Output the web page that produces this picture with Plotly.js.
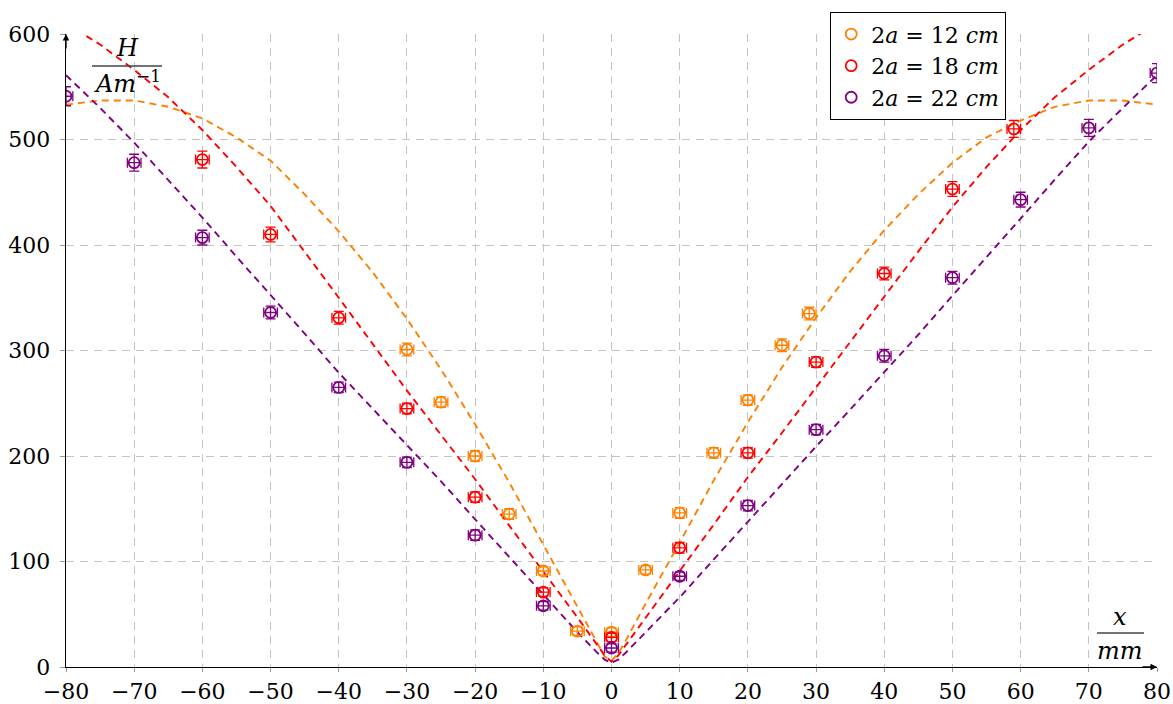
<!DOCTYPE html>
<html>
<head>
<meta charset="utf-8">
<script src="https://cdn.plot.ly/plotly-3.0.1.min.js"></script>
<style>html,body{margin:0;padding:0;background:#fff;}#chart{width:1173px;height:704px;}</style>
</head>
<body>
<div id="chart"></div>
<script>
// ---- data ----
const seriesNames = ["2<i>a</i> = 12 <i>cm</i>", "2<i>a</i> = 18 <i>cm</i>", "2<i>a</i> = 22 <i>cm</i>"];
const seriesColors = ["#ff8000", "#ff0000", "#800080"];

const x12 = [-30, -25, -20, -15, -10, -5, 0, 5, 10, 15, 20, 25, 29];
const h12 = [301, 251, 200, 145, 91, 34, 33, 92, 146, 203, 253, 305, 335];
const e12 = [6, 5, 5, 5, 4, 4, 4, 4, 5, 5, 5, 6, 6];

const x18 = [-60, -50, -40, -30, -20, -10, 0, 10, 20, 30, 40, 50, 59];
const h18 = [481, 410, 331, 245, 161, 71, 28, 113, 203, 289, 373, 453, 510];
const e18 = [8, 7, 6, 5, 5, 4, 4, 5, 5, 5, 6, 7, 8];

const x22 = [-80, -70, -60, -50, -40, -30, -20, -10, 0, 10, 20, 30, 40, 50, 60, 70, 80];
const h22 = [541, 478, 407, 336, 265, 194, 125, 58, 18, 86, 153, 225, 295, 369, 443, 511, 563];
const e22 = [9, 8, 7, 6, 5, 5, 5, 4, 4, 4, 5, 5, 6, 6, 7, 8, 9];
const exAll = 1;

// fit curves
const fitX = [-80,-75,-70,-65,-60,-55,-50,-45,-40,-35,-30,-25,-20,-15,-10,-5,-2,-1,0,1,2,5,10,15,20,25,30,35,40,45,50,55,60,65,70,75,80];
const fit12 = [533,537,537,531,520,502,480,448,413,374,330,282,230,175,116,57,21,10,6,13,24,60,118,177,232,284,331,375,414,448,478,502,518,531,537,537,533];
const fit18 = [610,590,566,540,509,474,437,394,350,306,262,220,178,134,91,47,20,11,5,11,20,47,91,135,180,222,265,308,352,394,436,474,509,540,566,590,610];
const fit22 = [561,530,497,462,426,389,353,316,279,245,211,176,140,104,68,33,13,7,4,7,13,33,66,102,138,174,209,244,279,315,352,388,425,462,498,530,561];

const xTicks = [-80,-70,-60,-50,-40,-30,-20,-10,0,10,20,30,40,50,60,70,80];
const yTicks = [0,100,200,300,400,500,600];

// ---- traces ----
const fits = [fit12, fit18, fit22];
const pts = [[x12, h12, e12], [x18, h18, e18], [x22, h22, e22]];
const traces = [];
fits.forEach((f, i) => {
  traces.push({
    x: fitX, y: f, mode: 'lines', type: 'scatter', showlegend: false, hoverinfo: 'skip',
    line: {color: seriesColors[i], width: 1.9, dash: '7px,5px'}
  });
});
pts.forEach((p, i) => {
  traces.push({
    x: p[0], y: p[1], mode: 'markers', type: 'scatter', name: seriesNames[i],
    marker: {symbol: 'circle-open', size: 11, color: seriesColors[i], line: {width: 1.8, color: seriesColors[i]}},
    error_y: {type: 'data', array: p[2], visible: true, color: seriesColors[i], thickness: 1.3, width: 5},
    error_x: {type: 'constant', value: exAll, visible: true, color: seriesColors[i], thickness: 1.3, width: 5}
  });
});

const serif = "DejaVu Serif";
const L = 66, R = 16, T = 32, B = 37, W = 1173, H = 704;
const pw = W - L - R, ph = H - T - B;
const px = v => (v - L) / pw;
const py = v => (H - B - v) / ph;

const layout = {
  width: W, height: H,
  margin: {l: L, r: R, t: T, b: B, pad: 0},
  paper_bgcolor: '#fff', plot_bgcolor: '#fff',
  font: {family: serif, size: 22, color: '#000'},
  showlegend: true,
  legend: {
    x: px(830), y: py(10), xanchor: 'left', yanchor: 'top',
    bgcolor: '#fff', bordercolor: '#000', borderwidth: 1.2,
    font: {family: serif, size: 22, color: '#000'},
    itemwidth: 30, tracegroupgap: 0
  },
  xaxis: {
    range: [-80, 80], tickvals: xTicks, ticktext: xTicks.map(v => v < 0 ? '\u2212' + Math.abs(v) : String(v)),
    showgrid: true, gridcolor: '#c4c4c4', griddash: '8px,6px', gridwidth: 1,
    zeroline: false, showline: true, linecolor: '#000', linewidth: 1.3,
    ticks: 'outside', ticklen: 4, tickcolor: '#999', tickfont: {family: serif, size: 22},
    ticklabelstandoff: 0
  },
  yaxis: {
    range: [0, 600], tickvals: yTicks,
    showgrid: true, gridcolor: '#c4c4c4', griddash: '8px,6px', gridwidth: 1,
    zeroline: false, showline: true, linecolor: '#000', linewidth: 1.3,
    ticks: 'outside', ticklen: 5, tickcolor: '#999', tickfont: {family: serif, size: 22},
    ticklabelstandoff: 5
  },
  shapes: [
    {type: 'line', xref: 'paper', yref: 'paper', x0: px(92), x1: px(162), y0: py(64), y1: py(64), line: {color: '#444', width: 1.5}},
    {type: 'line', xref: 'paper', yref: 'paper', x0: px(1097), x1: px(1144), y0: py(633), y1: py(633), line: {color: '#444', width: 1.5}}
  ],
  annotations: [
    {xref: 'paper', yref: 'paper', x: px(127), y: py(46), text: '<i>H</i>', showarrow: false, font: {family: serif, size: 24}, xanchor: 'center', yanchor: 'middle'},
    {xref: 'paper', yref: 'paper', x: px(127), y: py(80), text: '<i>Am</i><sup>\u22121</sup>', showarrow: false, font: {family: serif, size: 24}, xanchor: 'center', yanchor: 'middle'},
    {xref: 'paper', yref: 'paper', x: px(1120), y: py(617), text: '<i>x</i>', showarrow: false, font: {family: serif, size: 24}, xanchor: 'center', yanchor: 'middle'},
    {xref: 'paper', yref: 'paper', x: px(1120), y: py(651), text: '<i>mm</i>', showarrow: false, font: {family: serif, size: 24}, xanchor: 'center', yanchor: 'middle'},
    {xref: 'paper', yref: 'paper', x: 0, y: 1, ax: 0, ay: 16, text: '', showarrow: true, arrowhead: 2, arrowsize: 1, arrowwidth: 1.3, arrowcolor: '#000', standoff: 0},
    {xref: 'paper', yref: 'paper', x: 1, y: 0, ax: -16, ay: 0, text: '', showarrow: true, arrowhead: 2, arrowsize: 1, arrowwidth: 1.3, arrowcolor: '#000', standoff: 0}
  ]
};

Plotly.newPlot('chart', traces, layout, {staticPlot: true, displayModeBar: false});
</script>
</body>
</html>
